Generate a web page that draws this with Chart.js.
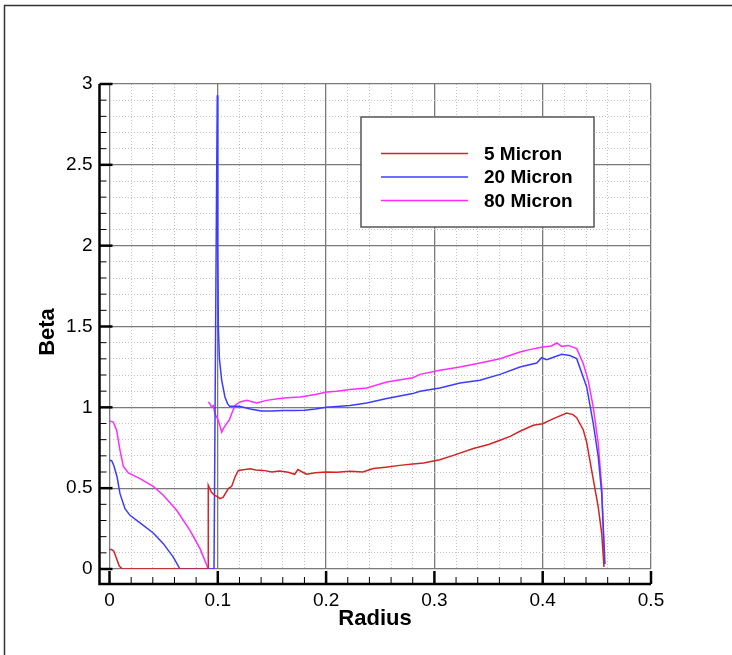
<!DOCTYPE html>
<html>
<head>
<meta charset="utf-8">
<script src="https://cdn.jsdelivr.net/npm/chart.js@4/dist/chart.umd.min.js"></script>
<style>
  html, body { margin: 0; padding: 0; background: #fff; }
  #chart { display: block; }
</style>
</head>
<body>
<canvas id="chart" width="732" height="655"></canvas>
<script>
// 5 Micron
const xs5 = [0, 0.002, 0.004, 0.006, 0.009, 0.012, 0.05, 0.091, 0.0912, 0.094, 0.097, 0.099, 0.102, 0.105,
  0.1097, 0.1128, 0.1159, 0.119, 0.125, 0.13, 0.135, 0.142, 0.15, 0.157, 0.165, 0.171, 0.174, 0.178, 0.182,
  0.19, 0.2, 0.21, 0.222, 0.234, 0.2436, 0.255, 0.268, 0.28, 0.29, 0.305, 0.3175, 0.336, 0.35, 0.36, 0.37,
  0.379, 0.3913, 0.4, 0.41, 0.4222, 0.428, 0.4314, 0.4375, 0.4406, 0.4452, 0.4513, 0.4545, 0.4566];
const ys5 = [0.12, 0.12, 0.11, 0.074, 0.018, 0, 0, 0, 0.518, 0.476, 0.455, 0.45, 0.435, 0.445,
  0.497, 0.511, 0.569, 0.61, 0.615, 0.62, 0.612, 0.61, 0.6, 0.606, 0.598, 0.586, 0.615, 0.6, 0.586,
  0.595, 0.6, 0.598, 0.604, 0.6, 0.621, 0.63, 0.641, 0.65, 0.656, 0.676, 0.703, 0.745, 0.77, 0.795, 0.82,
  0.852, 0.889, 0.899, 0.93, 0.965, 0.955, 0.936, 0.86, 0.785, 0.61, 0.383, 0.219, 0.012];

// 20 Micron
const xs20 = [0, 0.002, 0.004, 0.007, 0.0097, 0.0143, 0.0189, 0.0282, 0.0404, 0.0497, 0.0589, 0.0651,
  0.0965, 0.0985, 0.0995, 0.1, 0.1005, 0.1015, 0.1036, 0.1066, 0.109, 0.111, 0.12, 0.13, 0.14, 0.15, 0.16,
  0.17, 0.18, 0.19, 0.2, 0.21, 0.222, 0.2375, 0.256, 0.28, 0.2867, 0.305, 0.3237, 0.342, 0.3606, 0.379,
  0.3945, 0.399, 0.4037, 0.41, 0.4175, 0.425, 0.4314, 0.4406, 0.4467, 0.4513, 0.4545, 0.4575];
const ys20 = [0.672, 0.67, 0.64, 0.569, 0.466, 0.373, 0.332, 0.285, 0.223, 0.157, 0.074, 0,
  0, 2.0, 2.93, 2.0, 1.5, 1.3, 1.167, 1.064, 1.023, 1.006, 1.006, 0.99, 0.977, 0.978, 0.98,
  0.98, 0.982, 0.99, 1.0, 1.005, 1.012, 1.027, 1.054, 1.085, 1.099, 1.12, 1.15, 1.167, 1.204, 1.249,
  1.274, 1.307, 1.295, 1.31, 1.328, 1.32, 1.301, 1.126, 0.899, 0.693, 0.466, 0.03];

// 80 Micron (null = break in the line)
const xs80 = [0, 0.0035, 0.0066, 0.0097, 0.0128, 0.0174, 0.0282, 0.0404, 0.0497, 0.062, 0.0743, 0.0836,
  0.0898, 0.0912, 0.0975, 0.0975, 0.0912, 0.0927, 0.0943, 0.0958, 0.0974, 0.1005, 0.1036, 0.1051, 0.1081,
  0.1105, 0.1128, 0.1159, 0.1205, 0.1267, 0.1359, 0.145, 0.157, 0.164, 0.176, 0.19, 0.2006, 0.21, 0.222,
  0.2375, 0.256, 0.28, 0.2867, 0.305, 0.3237, 0.342, 0.3606, 0.379, 0.39, 0.4, 0.408, 0.413, 0.4175,
  0.4236, 0.4314, 0.4375, 0.442, 0.4467, 0.4513, 0.4545, 0.457];
const ys80 = [0.915, 0.909, 0.858, 0.734, 0.635, 0.594, 0.559, 0.511, 0.456, 0.363, 0.239, 0.126,
  0.023, 0, 0, null, 1.033, 1.023, 1.0, 1.01, 0.96, 0.92, 0.847, 0.868, 0.899,
  0.92, 0.96, 1.012, 1.033, 1.043, 1.027, 1.043, 1.055, 1.06, 1.064, 1.08, 1.095, 1.1, 1.11,
  1.12, 1.157, 1.183, 1.204, 1.229, 1.249, 1.274, 1.301, 1.342, 1.36, 1.373, 1.38, 1.398, 1.377,
  1.383, 1.363, 1.27, 1.167, 1.0, 0.775, 0.507, 0.03];

const seriesLabels = ["5 Micron", "20 Micron", "80 Micron"];
const seriesColors = ["#d42424", "#3c3cff", "#ff2cff"];
const xRange = [0, 0.5], xMinor = 0.02, xMajor = 0.1;
const yRange = [0, 3], yMinor = 0.1, yMajor = 0.5;

function pts(xs, ys) {
  return xs.map((x, i) => ({ x: x, y: ys[i] }));
}

function isMajor(v, step) {
  return Math.abs(v / step - Math.round(v / step)) < 1e-6;
}

function fmt(v) {
  return String(Math.round(v * 10) / 10);
}

const FONT = '"Liberation Sans", Arial, sans-serif';

// offset axes, ticks, titles, frame and boxed legend like the Tecplot original
const tecplotDecor = {
  id: "tecplotDecor",
  afterDraw(chart) {
    const ctx = chart.ctx;
    const sx = chart.scales.x, sy = chart.scales.y;
    const axX = 99.5, axY = 584;
    ctx.save();

    ctx.strokeStyle = "#333";
    ctx.lineWidth = 1.5;
    ctx.strokeRect(4.5, 5.5, 900, 900);

    ctx.strokeStyle = "#000";
    ctx.lineWidth = 2.5;
    ctx.beginPath();
    ctx.moveTo(axX, sy.getPixelForValue(yRange[1]));
    ctx.lineTo(axX, axY);
    ctx.lineTo(sx.getPixelForValue(xRange[1]), axY);
    ctx.stroke();

    sx.ticks.forEach(t => {
      const p = sx.getPixelForValue(t.value);
      const major = isMajor(t.value, xMajor);
      ctx.lineWidth = major ? 2.5 : 1;
      ctx.beginPath();
      ctx.moveTo(p, axY);
      ctx.lineTo(p, axY - (major ? 13 : 7));
      ctx.stroke();
    });
    sy.ticks.forEach(t => {
      const p = sy.getPixelForValue(t.value);
      const major = isMajor(t.value, yMajor);
      ctx.lineWidth = major ? 2.5 : 1;
      ctx.beginPath();
      ctx.moveTo(axX, p);
      ctx.lineTo(axX + (major ? 13 : 7), p);
      ctx.stroke();
    });

    ctx.fillStyle = "#000";
    ctx.font = "bold 22px " + FONT;
    ctx.textAlign = "center";
    ctx.textBaseline = "middle";
    ctx.fillText("Radius", 375, 619);
    ctx.save();
    ctx.translate(48, 332);
    ctx.rotate(-Math.PI / 2);
    ctx.fillText("Beta", 0, 0);
    ctx.restore();

    // legend box
    ctx.fillStyle = "#fff";
    ctx.fillRect(361, 117, 233, 110);
    ctx.strokeStyle = "#555";
    ctx.lineWidth = 1.5;
    ctx.strokeRect(361, 117, 233, 110);
    ctx.font = "bold 19px " + FONT;
    ctx.textAlign = "left";
    chart.data.datasets.forEach((ds, i) => {
      const y = 153.5 + i * 23.5;
      ctx.strokeStyle = ds.borderColor;
      ctx.lineWidth = 1.5;
      ctx.beginPath();
      ctx.moveTo(381, y);
      ctx.lineTo(468, y);
      ctx.stroke();
      ctx.fillStyle = "#000";
      ctx.fillText(ds.label, 484, y + 1);
    });
    ctx.restore();
  }
};

function gridOpts(major) {
  return {
    drawTicks: false,
    color: c => isMajor(c.tick.value, major) ? "#7a7a7a" : "#c4c4c4",
    lineWidth: c => isMajor(c.tick.value, major) ? 1.3 : 1
  };
}

new Chart(document.getElementById("chart"), {
  type: "line",
  data: {
    datasets: [
      { label: seriesLabels[0], data: pts(xs5, ys5), borderColor: seriesColors[0] },
      { label: seriesLabels[1], data: pts(xs20, ys20), borderColor: seriesColors[1] },
      { label: seriesLabels[2], data: pts(xs80, ys80), borderColor: seriesColors[2] }
    ]
  },
  options: {
    responsive: false,
    animation: false,
    devicePixelRatio: 1,
    spanGaps: false,
    elements: {
      point: { radius: 0 },
      line: { borderWidth: 1.5, tension: 0 }
    },
    layout: { padding: { top: 84, right: 81, left: 0, bottom: 0 } },
    plugins: { legend: { display: false }, tooltip: { enabled: false } },
    scales: {
      x: {
        type: "linear",
        min: xRange[0],
        max: xRange[1],
        afterFit: s => { s.height = 86; },
        grid: gridOpts(xMajor),
        border: {
          display: false,
          dash: c => isMajor(c.tick.value, xMajor) ? [] : [1, 2]
        },
        ticks: {
          stepSize: xMinor,
          autoSkip: false,
          maxRotation: 0,
          padding: 20,
          color: "#000",
          font: { family: FONT, size: 19 },
          callback: v => isMajor(v, xMajor) ? fmt(v) : ""
        }
      },
      y: {
        min: yRange[0],
        max: yRange[1],
        afterFit: s => { s.width = 109.5; },
        grid: gridOpts(yMajor),
        border: {
          display: false,
          dash: c => isMajor(c.tick.value, yMajor) ? [] : [1, 2]
        },
        ticks: {
          stepSize: yMinor,
          autoSkip: false,
          padding: 17,
          color: "#000",
          font: { family: FONT, size: 19 },
          callback: v => isMajor(v, yMajor) ? fmt(v) : ""
        }
      }
    }
  },
  plugins: [tecplotDecor]
});
</script>
</body>
</html>
